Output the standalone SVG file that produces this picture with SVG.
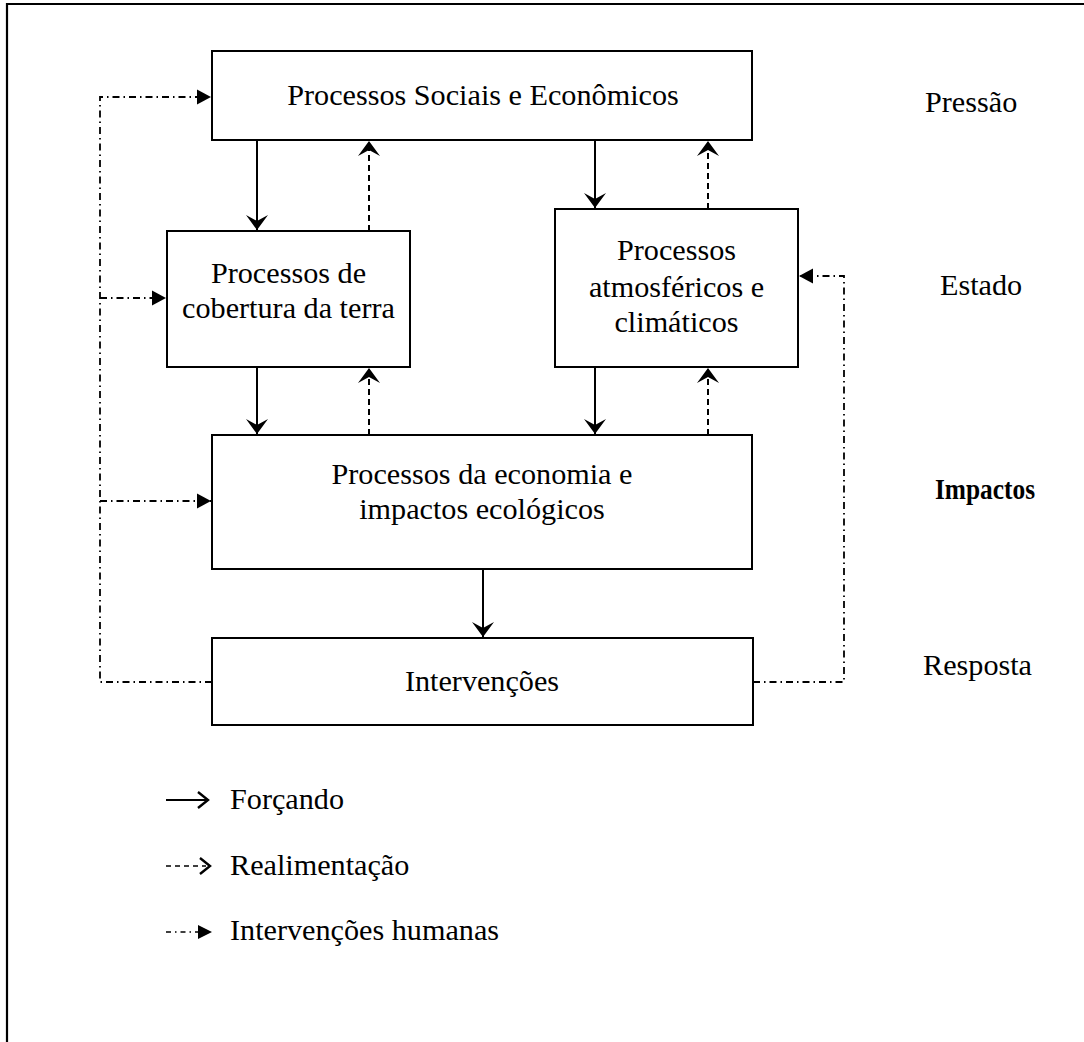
<svg xmlns="http://www.w3.org/2000/svg" width="1084" height="1042" viewBox="0 0 1084 1042">
<style>
.box{fill:#fff;stroke:#000;stroke-width:2}
.t{font-family:"Liberation Serif","Times New Roman",serif;font-size:30.2px;fill:#000}
.c{text-anchor:middle}
.solid{stroke:#000;stroke-width:2;fill:none}
.dash{stroke:#000;stroke-width:2;fill:none;stroke-dasharray:6 4}
.dd{stroke:#000;stroke-width:1.8;fill:none;stroke-dasharray:7 4 1.5 4}
</style>
<defs>
<marker id="st" markerUnits="userSpaceOnUse" markerWidth="24" markerHeight="24" viewBox="-16 -12 18 24" refX="0" refY="0" orient="auto">
<path d="M0,0 L-15,-11 L-9,0 L-15,11 Z" fill="#000"/>
</marker>
<marker id="tri" markerUnits="userSpaceOnUse" markerWidth="18" markerHeight="18" viewBox="-15 -9 16 18" refX="0" refY="0" orient="auto">
<path d="M0,0 L-14,-7.5 L-14,7.5 Z" fill="#000"/>
</marker>
</defs>
<rect width="1084" height="1042" fill="#fff"/>
<g id="frame">
<path d="M7,1042 V4 H1084" stroke="#000" stroke-width="2.2" fill="none"/>
</g>
<g id="connectors">
<path class="solid" d="M257,140 V230" marker-end="url(#st)"/>
<path class="dash" d="M369,231 V141" marker-end="url(#st)"/>
<path class="solid" d="M595,140 V208" marker-end="url(#st)"/>
<path class="dash" d="M708,209 V141" marker-end="url(#st)"/>
<path class="solid" d="M257,367 V434" marker-end="url(#st)"/>
<path class="dash" d="M369,435 V368" marker-end="url(#st)"/>
<path class="solid" d="M595,367 V434" marker-end="url(#st)"/>
<path class="dash" d="M708,435 V368" marker-end="url(#st)"/>
<path class="solid" d="M483,569 V637" marker-end="url(#st)"/>
<path class="dd" d="M212,682 H100 V97 H211" marker-end="url(#tri)"/>
<path class="dd" d="M100,298 H166" marker-end="url(#tri)"/>
<path class="dd" d="M100,501 H211" marker-end="url(#tri)"/>
<path class="dd" d="M753,682 H844 V276 H799" marker-end="url(#tri)"/>
</g>
<g id="n1">
<rect class="box" x="212" y="51" width="540" height="89"/>
<text class="t c" x="483" y="105">Processos Sociais e Econômicos</text>
</g>
<g id="n2">
<rect class="box" x="167" y="231" width="243" height="136"/>
<text class="t c" x="288.5" y="283">Processos de</text>
<text class="t c" x="288.5" y="318">cobertura da terra</text>
</g>
<g id="n3">
<rect class="box" x="555" y="209" width="243" height="158"/>
<text class="t c" x="676.5" y="260">Processos</text>
<text class="t c" x="676.5" y="297">atmosféricos e</text>
<text class="t c" x="676.5" y="332">climáticos</text>
</g>
<g id="n4">
<rect class="box" x="212" y="435" width="540" height="134"/>
<text class="t c" x="482" y="484">Processos da economia e</text>
<text class="t c" x="482" y="519">impactos ecológicos</text>
</g>
<g id="n5">
<rect class="box" x="212" y="638" width="541" height="87"/>
<text class="t c" x="482" y="691">Intervenções</text>
</g>
<g id="labels">
<text class="t" x="925" y="112">Pressão</text>
<text class="t" x="940" y="295">Estado</text>
<text class="t" x="935" y="499" font-weight="bold" style="font-size:28.5px" textLength="100" lengthAdjust="spacingAndGlyphs">Impactos</text>
<text class="t" x="923" y="675">Resposta</text>
</g>
<g id="legend">
<path d="M166,800 H206" stroke="#000" stroke-width="2"/>
<path d="M198,792 L208,800 L198,808" stroke="#000" stroke-width="2.4" fill="none"/>
<text class="t" x="230" y="809">Forçando</text>
<path d="M166,866 H206" stroke="#000" stroke-width="1.6" stroke-dasharray="5 4"/>
<path d="M200,858 L210,866 L200,874" stroke="#000" stroke-width="2.4" fill="none"/>
<text class="t" x="230" y="875">Realimentação</text>
<path d="M166,932 H198" stroke="#000" stroke-width="1.4" stroke-dasharray="5 4 1.5 4"/>
<path d="M198,925 L212,932 L198,939 Z" fill="#000"/>
<text class="t" x="230" y="940">Intervenções humanas</text>
</g>
</svg>
